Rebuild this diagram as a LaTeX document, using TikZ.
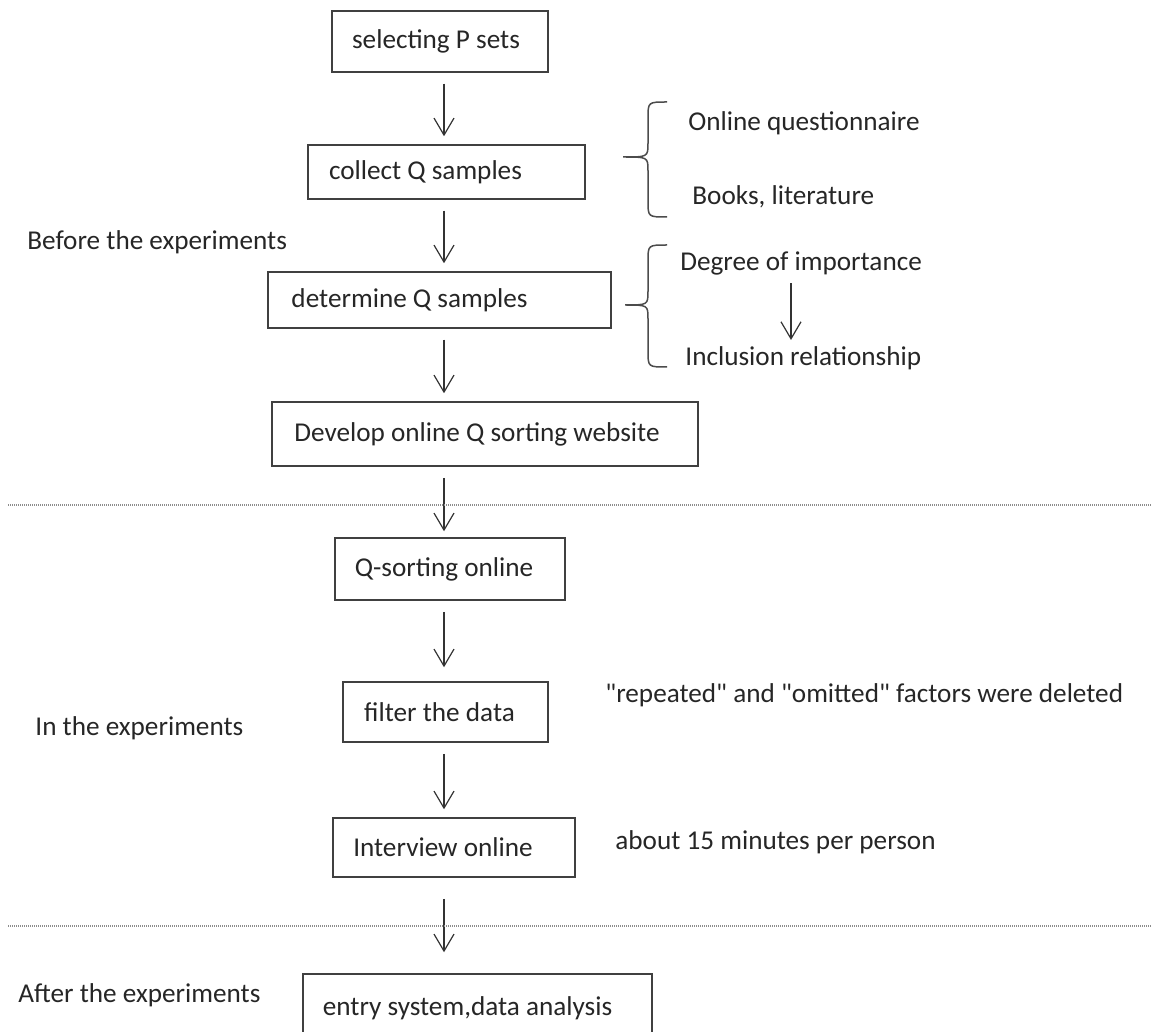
\documentclass[tikz,border=0pt]{standalone}
\usepackage{fontspec}
\setmainfont{Carlito}
\usetikzlibrary{arrows.meta}
\usetikzlibrary{calc}

\tikzset{
    stepbox/.style={rectangle, draw=black!75, line width=0.75pt, inner sep=2pt},
    note/.style={anchor=west, inner sep=0pt, text=black!85},
    flow/.style={-{Straight Barb[length=8.5pt,width=10pt]}, line width=0.6pt, draw=black!80, shorten <=5.5pt, shorten >=4pt},
    curly/.style={line width=0.75pt, draw=black!70},
    sep/.style={line width=0.9pt, draw=black!45, dash pattern=on 0.5pt off 0.5pt}
}

\begin{document}
\begin{tikzpicture}[x=0.5pt, y=-0.5pt, font=\fontsize{13.6}{16}\selectfont, text=black!85]

        \useasboundingbox (0,0) rectangle (1152,1032);

        % main column
        \node[stepbox, minimum width=108pt, minimum height=30.5pt] (sel) at (440,41.5) {selecting P sets\hspace*{4pt}};
        \node[stepbox, minimum width=138.5pt, minimum height=27pt] (col) at (446.5,172) {collect Q samples\hspace*{21pt}};
        \node[stepbox, minimum width=171.5pt, minimum height=28pt] (det) at (439.5,300) {determine Q samples\hspace*{30pt}};
        \node[stepbox, minimum width=213pt, minimum height=32pt] (dev) at (485,434) {Develop online Q sorting website\hspace*{8pt}};
        \node[stepbox, minimum width=115pt, minimum height=31pt] (qso) at (450,569) {Q-sorting online\hspace*{6pt}};
        \node[stepbox, minimum width=102.5pt, minimum height=30pt] (fil) at (445.5,712) {filter the data\hspace*{6pt}};
        \node[stepbox, minimum width=121pt, minimum height=29.5pt] (itv) at (454,847.5) {Interview online\hspace*{11pt}};
        \node[stepbox, minimum width=174.5pt, minimum height=34pt] (ent) at (477.5,1008) {entry system,data analysis\hspace*{10pt}};

        % phase labels
        \node[note] (before) at (27,242) {Before the experiments};
        \node[note] (during) at (35,728) {In the experiments};
        \node[note] (after) at (18,995) {After the experiments};

        % side notes
        \node[note] (onl) at (688,123) {Online questionnaire};
        \node[note] (bks) at (692,197) {Books, literature};
        \node[note] (deg) at (680,263) {Degree of importance};
        \node[note] (inc) at (685,358) {Inclusion relationship};
        \node[note] (rep) at (605,695) {\textquotedbl repeated\textquotedbl{} and \textquotedbl omitted\textquotedbl{} factors were deleted};
        \node[note] (abt) at (615,842) {about 15 minutes per person};

        \coordinate (ax) at (444,0);
        \coordinate (bx) at (791,0);

        \draw[flow] (sel.south -| ax) -- (col.north -| ax);
        \draw[flow] (col.south -| ax) -- (det.north -| ax);
        \draw[flow] (det.south -| ax) -- (dev.north -| ax);
        \draw[flow, shorten >=3pt] (dev.south -| ax) -- (qso.north -| ax);
        \draw[flow, shorten >=7pt] (qso.south -| ax) -- (fil.north -| ax);
        \draw[flow] (fil.south -| ax) -- (itv.north -| ax);
        \draw[flow, shorten <=10.5pt, shorten >=10.5pt] (itv.south -| ax) -- (ent.north -| ax);
        \draw[flow, shorten <=4pt, shorten >=3pt] (deg.south -| bx) -- (inc.north -| bx);

        % phase separators
        \draw[sep] (8,505) -- (1152,505);
        \draw[sep] (8,926) -- (1152,926);

        % braces
        \draw[curly] (667,102) .. controls (648,102) .. (648,118) -- (648,143)
            .. controls (648,157) .. (623,157) .. controls (648,157) .. (648,171)
            -- (648,201) .. controls (648,217) .. (667,217);
        \draw[curly] (667,245) .. controls (648,245) .. (648,261) -- (648,291)
            .. controls (648,305) .. (625,305) .. controls (648,305) .. (648,319)
            -- (648,351) .. controls (648,367) .. (667,367);

    \end{tikzpicture}
\end{document}
